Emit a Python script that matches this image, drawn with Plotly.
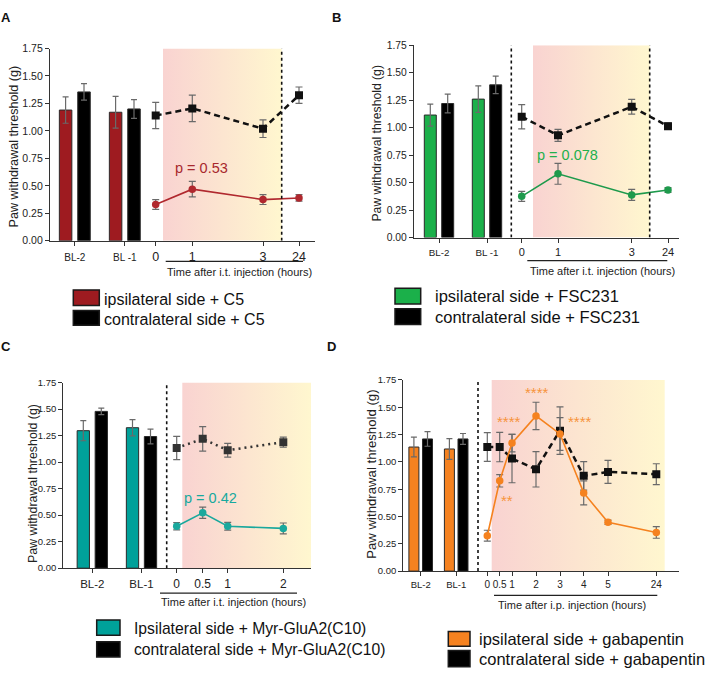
import plotly.graph_objects as go

W, H = 708, 678

# ---------------- DATA ----------------
A_labels = ["BL-2", "BL -1", "0", "1", "3", "24"]
A_bl_ipsi = [1.19, 1.17]
A_bl_ipsi_err = [0.12, 0.145]
A_bl_contra = [1.355, 1.20]
A_bl_contra_err = [0.075, 0.085]
A_t_ipsi = [0.33, 0.47, 0.375, 0.39]
A_t_ipsi_err = [0.045, 0.07, 0.045, 0.03]
A_t_contra = [1.14, 1.205, 1.02, 1.325]
A_t_contra_err = [0.12, 0.12, 0.08, 0.075]

B_labels = ["BL-2", "BL -1", "0", "1", "3", "24"]
B_bl_ipsi = [1.115, 1.26]
B_bl_ipsi_err = [0.10, 0.12]
B_bl_contra = [1.22, 1.39]
B_bl_contra_err = [0.085, 0.08]
B_t_ipsi = [0.375, 0.58, 0.388, 0.432]
B_t_ipsi_err = [0.045, 0.095, 0.05, 0.022]
B_t_contra = [1.10, 0.93, 1.19, 1.014]
B_t_contra_err = [0.11, 0.055, 0.067, 0.03]

C_labels = ["BL-2", "BL-1", "0", "0.5", "1", "2"]
C_bl_ipsi = [1.296, 1.324]
C_bl_ipsi_err = [0.095, 0.077]
C_bl_contra = [1.478, 1.241]
C_bl_contra_err = [0.03, 0.07]
C_t_ipsi = [0.395, 0.522, 0.395, 0.375]
C_t_ipsi_err = [0.034, 0.053, 0.037, 0.051]
C_t_contra = [1.133, 1.219, 1.111, 1.188]
C_t_contra_err = [0.11, 0.115, 0.065, 0.048]

D_labels = ["BL-2", "BL-1", "0", "0.5", "1", "2", "3", "4", "5", "24"]
D_bl_ipsi = [1.136, 1.118]
D_bl_ipsi_err = [0.09, 0.095]
D_bl_contra = [1.21, 1.21]
D_bl_contra_err = [0.067, 0.05]
D_t_ipsi = [0.324, 0.827, 1.172, 1.421, 1.256, 0.716, 0.447, 0.354]
D_t_ipsi_err = [0.05, 0.057, 0.08, 0.125, 0.15, 0.11, 0.02, 0.053]
D_t_contra = [1.136, 1.136, 1.031, 0.932, 1.286, 0.872, 0.908, 0.887]
D_t_contra_err = [0.131, 0.135, 0.222, 0.162, 0.218, 0.13, 0.105, 0.096]

# ---------------- STYLE / LAYOUT ----------------
SANS = "Liberation Sans, Arial, Helvetica, sans-serif"
PINK = "rgb(249,211,209)"
YELLOW = "rgb(255,247,207)"
ERRC = "#6a6a6a"


def X(px):
    return px / W


def Y(py):
    return 1 - py / H


panels = [
    dict(name="A", dom=(50, 315, 43.3, 239), width=265,
         bl_pos=[24.8, 74.8], t_pos=[105.7, 142.3, 213, 249], off=9.2, bw=12.5,
         shade=(113, 231.7), dotted=[231.7], tick_sizes=(10, 12.5), ytick_size=10.5,
         labels=A_labels, bl_ipsi=A_bl_ipsi, bl_ipsi_err=A_bl_ipsi_err,
         bl_contra=A_bl_contra, bl_contra_err=A_bl_contra_err,
         t_ipsi=A_t_ipsi, t_ipsi_err=A_t_ipsi_err, t_contra=A_t_contra, t_contra_err=A_t_contra_err,
         bar_color="#9e1b20", line_color="#b0282e", contra_dash="6px,4px", contra_color="#111",
         ytitle=(14, 143, 12.6)),
    dict(name="B", dom=(414, 679, 40, 235.7), width=265,
         bl_pos=[25, 73], t_pos=[107.7, 144, 217.7, 254], off=8.7, bw=12,
         shade=(119, 235.7), dotted=[97.3, 235.7], tick_sizes=(9.8, 11), ytick_size=10.3,
         labels=B_labels, bl_ipsi=B_bl_ipsi, bl_ipsi_err=B_bl_ipsi_err,
         bl_contra=B_bl_contra, bl_contra_err=B_bl_contra_err,
         t_ipsi=B_t_ipsi, t_ipsi_err=B_t_ipsi_err, t_contra=B_t_contra, t_contra_err=B_t_contra_err,
         bar_color="#1bb04a", line_color="#1e9a4c", contra_dash="6px,4px", contra_color="#111",
         ytitle=(377.5, 140.5, 12.2)),
    dict(name="C", dom=(63.3, 311, 383.3, 572.3), width=247.7,
         bl_pos=[29, 78.2], t_pos=[113.4, 139.4, 164.4, 220], off=9, bw=12.3,
         shade=(119, 247.7), dotted=[103.4], tick_sizes=(11.5, 12), ytick_size=9.5,
         labels=C_labels, bl_ipsi=C_bl_ipsi, bl_ipsi_err=C_bl_ipsi_err,
         bl_contra=C_bl_contra, bl_contra_err=C_bl_contra_err,
         t_ipsi=C_t_ipsi, t_ipsi_err=C_t_ipsi_err, t_contra=C_t_contra, t_contra_err=C_t_contra_err,
         bar_color="#00a19a", line_color="#1aa89d", contra_dash="2px,4px", contra_color="#333",
         ytitle=(33, 486.7, 12.4)),
    dict(name="D", dom=(403.3, 679, 380.7, 575.3), width=275.7,
         bl_pos=[17.4, 52.9], t_pos=[84, 96.4, 108.7, 132.7, 156.7, 180.4, 204.7, 253], off=6.8, bw=10,
         shade=(88.4, 261.4), dotted=[74.7], tick_sizes=(9.5, 10), ytick_size=9.5,
         labels=D_labels, bl_ipsi=D_bl_ipsi, bl_ipsi_err=D_bl_ipsi_err,
         bl_contra=D_bl_contra, bl_contra_err=D_bl_contra_err,
         t_ipsi=D_t_ipsi, t_ipsi_err=D_t_ipsi_err, t_contra=D_t_contra, t_contra_err=D_t_contra_err,
         bar_color="#f58220", line_color="#f5821f", contra_dash="6px,4px", contra_color="#111",
         ytitle=(371.5, 476.7, 13.2)),
]

fig = go.Figure()
shapes = []
annotations = []
layout_axes = {}

for i, p in enumerate(panels):
    k = "" if i == 0 else str(i + 1)
    xa, ya = "x" + k, "y" + k
    x0, x1, y0, y1 = p["dom"]

    # gradient shaded region
    s0, s1 = p["shade"]
    fig.add_trace(go.Scatter(
        x=[s0, s1, s1, s0, s0], y=[0, 0, 1.75, 1.75, 0], mode="none", fill="toself",
        fillgradient=dict(type="horizontal", colorscale=[[0, PINK], [1, YELLOW]]),
        hoverinfo="skip", showlegend=False, xaxis=xa, yaxis=ya))

    # baseline bars
    fig.add_trace(go.Bar(
        x=[c - p["off"] for c in p["bl_pos"]], y=p["bl_ipsi"], width=p["bw"],
        marker=dict(color=p["bar_color"], line=dict(color="#2a2a2a", width=1)),
        error_y=dict(type="data", array=p["bl_ipsi_err"], color=ERRC, thickness=1.2, width=3),
        showlegend=False, xaxis=xa, yaxis=ya))
    fig.add_trace(go.Bar(
        x=[c + p["off"] for c in p["bl_pos"]], y=p["bl_contra"], width=p["bw"],
        marker=dict(color="#000000", line=dict(color="#2a2a2a", width=1)),
        error_y=dict(type="data", array=p["bl_contra_err"], color=ERRC, thickness=1.2, width=3),
        showlegend=False, xaxis=xa, yaxis=ya))

    # time course lines
    fig.add_trace(go.Scatter(
        x=p["t_pos"], y=p["t_contra"], mode="lines+markers",
        line=dict(color=p["contra_color"], width=2.5, dash=p["contra_dash"]),
        marker=dict(symbol="square", size=8, color=p["contra_color"]),
        error_y=dict(type="data", array=p["t_contra_err"], color=ERRC, thickness=1.2, width=3.5),
        showlegend=False, xaxis=xa, yaxis=ya))
    fig.add_trace(go.Scatter(
        x=p["t_pos"], y=p["t_ipsi"], mode="lines+markers",
        line=dict(color=p["line_color"], width=1.6),
        marker=dict(symbol="circle", size=7.5, color=p["line_color"]),
        error_y=dict(type="data", array=p["t_ipsi_err"], color=ERRC, thickness=1.2, width=3.5),
        showlegend=False, xaxis=xa, yaxis=ya))

    for d in p["dotted"]:
        shapes.append(dict(type="line", xref=xa, yref=ya, x0=d, x1=d, y0=0, y1=1.75,
                           line=dict(color="#111", width=1.6, dash="dot")))

    bl_size, num_size = p["tick_sizes"]
    ticktext = ['<span style="font-size:%spx">%s</span>' % (bl_size, lab) for lab in p["labels"][:2]] \
        + list(p["labels"][2:])
    layout_axes["xaxis" + k] = dict(
        domain=[X(x0), X(x1)], range=[0, p["width"]], anchor=ya,
        tickmode="array", tickvals=p["bl_pos"] + p["t_pos"], ticktext=ticktext,
        tickangle=0,
        showline=True, linecolor="#333", linewidth=1.2, ticks="outside", ticklen=4,
        tickcolor="#333", tickwidth=1.2, showgrid=False, zeroline=False,
        tickfont=dict(family=SANS, size=num_size, color="#222"), fixedrange=True)
    layout_axes["yaxis" + k] = dict(
        domain=[Y(y1), Y(y0)], range=[0, 1.75], anchor=xa,
        tickmode="linear", tick0=0, dtick=0.25, tickformat=".2f",
        showline=True, linecolor="#333", linewidth=1.2, ticks="outside", ticklen=4,
        tickcolor="#333", tickwidth=1.2, showgrid=False, zeroline=False,
        tickfont=dict(family=SANS, size=p["ytick_size"], color="#222"), fixedrange=True)

    tx, ty, ts = p["ytitle"]
    annotations.append(dict(x=X(tx), y=Y(ty), xref="paper", yref="paper", text="Paw withdrawal threshold (g)",
                            textangle=-90, showarrow=False, xanchor="center", yanchor="middle",
                            font=dict(family=SANS, size=ts, color="#222")))

# Time axis underlines and titles
time_titles = [
    (165.7, 303, 260, 239, 270.7, "Time after i.t. injection (hours)"),
    (527.3, 667.3, 259.3, 602.5, 269.3, "Time after i.t. injection (hours)"),
    (160, 297, 597.7, 233, 606.7, "Time after i.t. injection (hours)"),
    (494, 657.3, 600, 572, 609.3, "Time after i.p. injection (hours)"),
]
for lx0, lx1, ly, tx, ty, txt in time_titles:
    shapes.append(dict(type="line", xref="paper", yref="paper", x0=X(lx0), x1=X(lx1), y0=Y(ly), y1=Y(ly),
                       line=dict(color="#222", width=1.2)))
    annotations.append(dict(x=X(tx), y=Y(ty), xref="paper", yref="paper", text=txt, showarrow=False,
                            xanchor="center", yanchor="middle", font=dict(family=SANS, size=11, color="#222")))

# p-values
pvals = [
    (201.7, 165, "p = 0.53", "#a8282d"),
    (567.7, 151.7, "p = 0.078", "#22b04c"),
    (210.8, 501, "p = 0.42", "#17a99e"),
]
for tx, ty, txt, col in pvals:
    annotations.append(dict(x=X(tx), y=Y(ty), xref="paper", yref="paper", text=txt, showarrow=False,
                            xanchor="center", yanchor="middle", font=dict(family=SANS, size=14.5, color=col)))

# significance stars in D
stars = [(537, 393.3, "****"), (509, 423.3, "****"), (580, 423.3, "****"), (507, 503.5, "**")]
for tx, ty, txt in stars:
    annotations.append(dict(x=X(tx), y=Y(ty), xref="paper", yref="paper", text=txt, showarrow=False,
                            xanchor="center", yanchor="middle", font=dict(family=SANS, size=15, color="#f7943c")))

# panel letters
for tx, ty, txt in [(6, 12, "A"), (336, 12, "B"), (6, 347, "C"), (331, 347, "D")]:
    annotations.append(dict(x=X(tx), y=Y(ty), xref="paper", yref="paper", text="<b>%s</b>" % txt,
                            showarrow=False, xanchor="center", yanchor="middle",
                            font=dict(family=SANS, size=13, color="#111")))

# legends
legends = [
    (73.3, 99.3, (289, 305), (310, 325), 102, 298.3, 319.3,
     ["ipsilateral side + C5", "contralateral side + C5"], "#9e1b20", 16),
    (395, 420.7, (287.3, 303.3), (308.3, 324.3), 433, 295, 316.7,
     ["ipsilateral side + FSC231", "contralateral side + FSC231"], "#1bb04a", 16.5),
    (96.7, 120, (625, 640.7), (647.3, 662.7), 132, 634, 655,
     ["Ipsilateral side + Myr-GluA2(C10)", "contralateral side + Myr-GluA2(C10)"], "#00a19a", 15.7),
    (448.3, 470, (636.7, 651.7), (656, 672.7), 477, 644, 664.3,
     ["ipsilateral side + gabapentin", "contralateral side + gabapentin"], "#f58220", 16.5),
]
for bx0, bx1, r1, r2, tx, ty1, ty2, labs, col, fs in legends:
    for (ry0, ry1), fc in [(r1, col), (r2, "#000000")]:
        shapes.append(dict(type="rect", xref="paper", yref="paper", x0=X(bx0), x1=X(bx1), y0=Y(ry1), y1=Y(ry0),
                           fillcolor=fc, line=dict(color="#1a1a1a", width=1.5)))
    for ty, lab in [(ty1, labs[0]), (ty2, labs[1])]:
        annotations.append(dict(x=X(tx), y=Y(ty), xref="paper", yref="paper", text=lab, showarrow=False,
                                xanchor="left", yanchor="middle", font=dict(family=SANS, size=fs, color="#111")))

fig.update_layout(
    width=W, height=H, margin=dict(l=0, r=0, t=0, b=0),
    paper_bgcolor="white", plot_bgcolor="rgba(0,0,0,0)",
    barmode="overlay", showlegend=False, hovermode=False,
    shapes=shapes, annotations=annotations, **layout_axes)

fig.write_html("out.html", config={"displayModeBar": False},
               post_script="document.body.style.margin='0';document.body.style.padding='0';")
